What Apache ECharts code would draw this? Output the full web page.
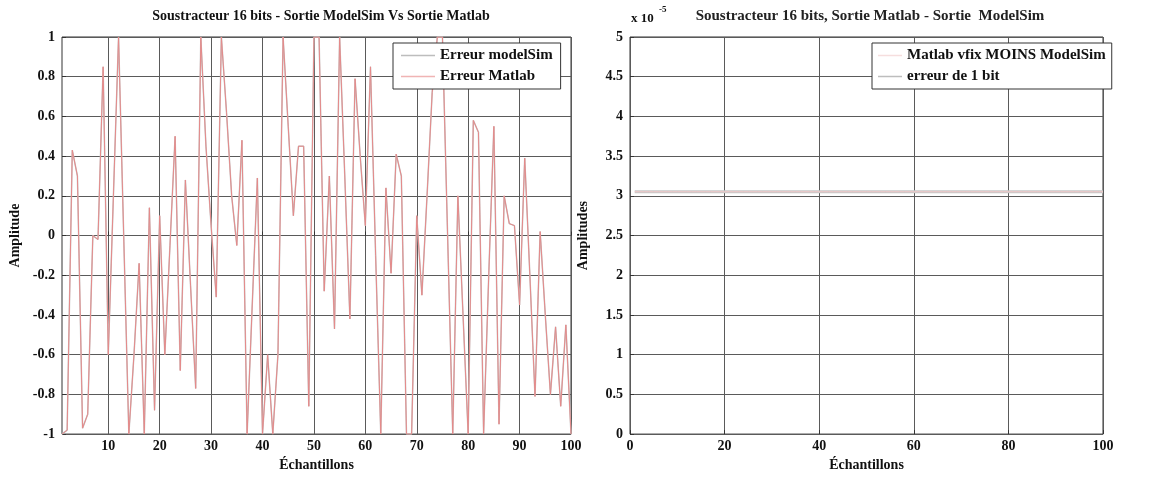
<!DOCTYPE html>
<html>
<head>
<meta charset="utf-8">
<script src="https://cdn.jsdelivr.net/npm/echarts@6.0.0/dist/echarts.min.js"></script>
<style>
  html, body { margin: 0; padding: 0; background: #fff; }
  #chart { width: 1164px; height: 477px; }
</style>
</head>
<body>
<div id="chart"></div>
<script>
// left panel: error signal, samples 1..100
const leftErreurModelSim = [
  -1.0, -0.98, 0.43, 0.3, -0.97, -0.9, 0.0, -0.02, 0.85, -0.6,
  0.2, 1.0, 0.0, -1.0, -0.6, -0.14, -1.0, 0.14, -0.88, 0.1,
  -0.6, -0.05, 0.5, -0.68, 0.28, -0.25, -0.77, 1.0, 0.45, 0.05,
  -0.31, 1.0, 0.62, 0.2, -0.05, 0.48, -1.0, -0.35, 0.29, -1.0,
  -0.6, -1.0, -0.6, 1.0, 0.55, 0.1, 0.45, 0.45, -0.86, 1.0,
  1.0, -0.28, 0.3, -0.47, 1.0, 0.3, -0.42, 0.79, 0.4, 0.05,
  0.85, -0.1, -1.0, 0.24, -0.19, 0.41, 0.3, -1.0, -1.0, 0.1,
  -0.3, 0.2, 0.72, 1.0, 1.0, 0.0, -1.0, 0.2, -0.4, -1.0,
  0.58, 0.52, -1.0, -0.2, 0.55, -0.95, 0.2, 0.06, 0.05, -0.35,
  0.39, -0.2, -0.81, 0.02, -0.4, -0.8, -0.46, -0.86, -0.45, -1.0
];
// the Matlab curve sits exactly on top of the ModelSim one
const leftErreurMatlab = leftErreurModelSim.slice();

// right panel: difference is a constant 1 LSB (2^-15)
const rightMatlabMoinsModelSim = [
  3.0518e-5, 3.0518e-5, 3.0518e-5, 3.0518e-5, 3.0518e-5, 3.0518e-5, 3.0518e-5, 3.0518e-5, 3.0518e-5, 3.0518e-5,
  3.0518e-5, 3.0518e-5, 3.0518e-5, 3.0518e-5, 3.0518e-5, 3.0518e-5, 3.0518e-5, 3.0518e-5, 3.0518e-5, 3.0518e-5,
  3.0518e-5, 3.0518e-5, 3.0518e-5, 3.0518e-5, 3.0518e-5, 3.0518e-5, 3.0518e-5, 3.0518e-5, 3.0518e-5, 3.0518e-5,
  3.0518e-5, 3.0518e-5, 3.0518e-5, 3.0518e-5, 3.0518e-5, 3.0518e-5, 3.0518e-5, 3.0518e-5, 3.0518e-5, 3.0518e-5,
  3.0518e-5, 3.0518e-5, 3.0518e-5, 3.0518e-5, 3.0518e-5, 3.0518e-5, 3.0518e-5, 3.0518e-5, 3.0518e-5, 3.0518e-5,
  3.0518e-5, 3.0518e-5, 3.0518e-5, 3.0518e-5, 3.0518e-5, 3.0518e-5, 3.0518e-5, 3.0518e-5, 3.0518e-5, 3.0518e-5,
  3.0518e-5, 3.0518e-5, 3.0518e-5, 3.0518e-5, 3.0518e-5, 3.0518e-5, 3.0518e-5, 3.0518e-5, 3.0518e-5, 3.0518e-5,
  3.0518e-5, 3.0518e-5, 3.0518e-5, 3.0518e-5, 3.0518e-5, 3.0518e-5, 3.0518e-5, 3.0518e-5, 3.0518e-5, 3.0518e-5,
  3.0518e-5, 3.0518e-5, 3.0518e-5, 3.0518e-5, 3.0518e-5, 3.0518e-5, 3.0518e-5, 3.0518e-5, 3.0518e-5, 3.0518e-5,
  3.0518e-5, 3.0518e-5, 3.0518e-5, 3.0518e-5, 3.0518e-5, 3.0518e-5, 3.0518e-5, 3.0518e-5, 3.0518e-5, 3.0518e-5
];
const rightErreur1Bit = rightMatlabMoinsModelSim.slice();

const leftXTicks = [10, 20, 30, 40, 50, 60, 70, 80, 90, 100];

const toPoints = (arr) => arr.map((v, i) => [i + 1, v]);

const FONT = "'Liberation Serif', 'DejaVu Serif', serif";
const gridLine = { show: true, lineStyle: { color: "#5a5a5a", width: 1 } };
const tickStyle = { inside: true, length: 4, lineStyle: { color: "#333" } };
const labelStyle = { color: "#111", fontFamily: FONT, fontWeight: "bold", fontSize: 14 };
const nameStyle = { color: "#111", fontFamily: FONT, fontWeight: "bold", fontSize: 14 };
const legendText = { fontFamily: FONT, fontWeight: "bold", fontSize: 15, color: "#111" };

const chart = echarts.init(document.getElementById("chart"));

const option = {
  animation: false,
  backgroundColor: "#fff",
  title: [
    {
      text: "Soustracteur 16 bits - Sortie ModelSim Vs Sortie Matlab",
      left: 316, top: 4, textAlign: "center",
      textStyle: { fontFamily: FONT, fontWeight: "bold", fontSize: 14, color: "#111" },
    },
    {
      text: "Soustracteur 16 bits, Sortie Matlab - Sortie  ModelSim",
      left: 865, top: 4, textAlign: "center",
      textStyle: { fontFamily: FONT, fontWeight: "bold", fontSize: 15, color: "#222" },
    },
  ],
  legend: [
    {
      data: [
        { name: "Erreur modelSim", icon: "rect", itemStyle: { color: "#bdbdbd" } },
        { name: "Erreur Matlab", icon: "rect", itemStyle: { color: "#f0b4b4" } },
      ],
      orient: "vertical",
      left: 393, top: 43,
      backgroundColor: "#fff",
      borderColor: "#333", borderWidth: 1,
      padding: [5, 8, 5, 8],
      itemGap: 6, itemWidth: 34, itemHeight: 1.5,
      textStyle: legendText,
    },
    {
      data: [
        { name: "Matlab vfix MOINS ModelSim", icon: "rect", itemStyle: { color: "#f6dede" } },
        { name: "erreur de 1 bit", icon: "rect", itemStyle: { color: "#bdbdbd" } },
      ],
      orient: "vertical",
      left: 872, top: 43,
      backgroundColor: "#fff",
      borderColor: "#333", borderWidth: 1,
      padding: [5, 6, 5, 6],
      itemGap: 6, itemWidth: 24, itemHeight: 1.5,
      textStyle: legendText,
    },
  ],
  grid: [
    { left: 62, right: 593, top: 37, bottom: 36, show: true, borderColor: "#333", borderWidth: 1 },
    { left: 630, right: 61, top: 37, bottom: 36, show: true, borderColor: "#333", borderWidth: 1 },
  ],
  xAxis: [
    {
      type: "value", gridIndex: 0, min: 1, max: 100,
      name: "Échantillons", nameLocation: "middle", nameGap: 18, nameTextStyle: nameStyle,
      axisLine: { show: false },
      axisTick: Object.assign({ customValues: leftXTicks }, tickStyle),
      axisLabel: Object.assign({ customValues: leftXTicks, margin: 5 }, labelStyle),
      splitLine: gridLine,
    },
    {
      type: "value", gridIndex: 1, min: 0, max: 100, interval: 20,
      name: "Échantillons", nameLocation: "middle", nameGap: 18, nameTextStyle: nameStyle,
      axisLine: { show: false },
      axisTick: tickStyle,
      axisLabel: Object.assign({ margin: 5 }, labelStyle),
      splitLine: gridLine,
    },
  ],
  yAxis: [
    {
      type: "value", gridIndex: 0, min: -1, max: 1, interval: 0.2,
      name: "Amplitude", nameLocation: "middle", nameGap: 40, nameTextStyle: nameStyle,
      axisLine: { show: false },
      axisTick: tickStyle,
      axisLabel: Object.assign({ margin: 7, formatter: (v) => String(Math.round(v * 10) / 10) }, labelStyle),
      splitLine: gridLine,
    },
    {
      type: "value", gridIndex: 1, min: 0, max: 5e-5, interval: 0.5e-5,
      name: "Amplitudes", nameLocation: "middle", nameGap: 40, nameTextStyle: nameStyle,
      axisLine: { show: false },
      axisTick: tickStyle,
      axisLabel: Object.assign({ margin: 7, formatter: (v) => String(Math.round(v * 1e6) / 10) }, labelStyle),
      splitLine: gridLine,
    },
  ],
  graphic: [
    { type: "text", left: 631, top: 12, style: { text: "x 10", font: "bold 13px " + FONT, fill: "#111" } },
    { type: "text", left: 659, top: 5, style: { text: "-5", font: "bold 9px " + FONT, fill: "#111" } },
  ],
  series: [
    {
      name: "Erreur modelSim", type: "line", xAxisIndex: 0, yAxisIndex: 0,
      data: toPoints(leftErreurModelSim), symbol: "none",
      lineStyle: { color: "#c4c4c4", width: 1.5 },
      itemStyle: { color: "#c4c4c4" },
    },
    {
      name: "Erreur Matlab", type: "line", xAxisIndex: 0, yAxisIndex: 0,
      data: toPoints(leftErreurMatlab), symbol: "none",
      lineStyle: { color: "#e58a8a", width: 1 },
      itemStyle: { color: "#e58a8a" },
    },
    {
      name: "erreur de 1 bit", type: "line", xAxisIndex: 1, yAxisIndex: 1,
      data: toPoints(rightErreur1Bit), symbol: "none",
      lineStyle: { color: "#c8c8c8", width: 3 },
      itemStyle: { color: "#c8c8c8" },
    },
    {
      name: "Matlab vfix MOINS ModelSim", type: "line", xAxisIndex: 1, yAxisIndex: 1,
      data: toPoints(rightMatlabMoinsModelSim), symbol: "none",
      lineStyle: { color: "#f0c8c8", width: 1 },
      itemStyle: { color: "#f0c8c8" },
    },
  ],
};

chart.setOption(option);
</script>
</body>
</html>
